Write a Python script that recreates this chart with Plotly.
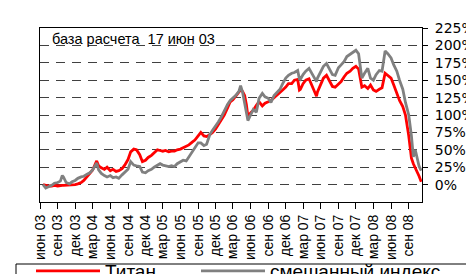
import plotly.graph_objects as go

dates = [
    "2003-06-17", "2003-07-01", "2003-07-15", "2003-08-01", "2003-08-15", "2003-09-01", "2003-09-15",
    "2003-09-25", "2003-10-01", "2003-10-15", "2003-11-01", "2003-11-15", "2003-12-01", "2003-12-15",
    "2004-01-01", "2004-01-15", "2004-02-01", "2004-02-15", "2004-03-01", "2004-03-15", "2004-03-22",
    "2004-04-01", "2004-04-15", "2004-05-01", "2004-05-15", "2004-06-01", "2004-06-15", "2004-07-01",
    "2004-07-15", "2004-08-01", "2004-08-15", "2004-09-01", "2004-09-15", "2004-10-01", "2004-10-15",
    "2004-11-01", "2004-11-15", "2004-12-01", "2004-12-15", "2005-01-01", "2005-01-15", "2005-02-01",
    "2005-02-15", "2005-03-01", "2005-03-15", "2005-04-01", "2005-04-15", "2005-05-01", "2005-05-15",
    "2005-06-01", "2005-06-15", "2005-07-01", "2005-07-15", "2005-08-01", "2005-08-15", "2005-09-01",
    "2005-09-15", "2005-10-01", "2005-10-15", "2005-11-01", "2005-11-15", "2005-12-01", "2005-12-15",
    "2006-01-01", "2006-01-15", "2006-02-01", "2006-02-15", "2006-03-01", "2006-03-15", "2006-04-01",
    "2006-04-10", "2006-04-20", "2006-05-01", "2006-05-10", "2006-05-18", "2006-06-01", "2006-06-15",
    "2006-07-01", "2006-07-15", "2006-08-01", "2006-08-15", "2006-09-01", "2006-09-15", "2006-10-01",
    "2006-10-15", "2006-11-01", "2006-11-15", "2006-12-01", "2006-12-15", "2007-01-01", "2007-01-15",
    "2007-02-01", "2007-02-10", "2007-02-15", "2007-03-01", "2007-03-15", "2007-04-01", "2007-04-15",
    "2007-05-01", "2007-05-10", "2007-05-15", "2007-06-01", "2007-06-15", "2007-07-01", "2007-07-15",
    "2007-08-01", "2007-08-15", "2007-09-01", "2007-09-15", "2007-10-01", "2007-10-15", "2007-11-01",
    "2007-11-15", "2007-12-01", "2007-12-15", "2008-01-01", "2008-01-15", "2008-02-01", "2008-02-15",
    "2008-03-01", "2008-03-15", "2008-04-01", "2008-04-15", "2008-05-01", "2008-05-15", "2008-06-01",
    "2008-06-15", "2008-07-01", "2008-07-15", "2008-08-01", "2008-08-15", "2008-09-01", "2008-09-15",
    "2008-09-25", "2008-10-05", "2008-10-15", "2008-10-25", "2008-11-05",
]

titan = [
    0, -1, -2, -2, -1, -2, -1,
    -1, -1, -1, -1, 0, 0, 1,
    3, 6, 11, 16, 21, 30, 34,
    27, 24, 22, 25, 20, 22, 19,
    20, 23, 28, 36, 47, 51, 50,
    43, 33, 35, 39, 42, 46, 50,
    49, 48, 49, 47, 48, 48, 50,
    51, 53, 55, 57, 61, 64, 70,
    75, 70, 69, 72, 75, 80, 86,
    93, 100, 110, 119, 122, 127, 133,
    136, 134, 128, 115, 98, 103, 107,
    114, 119, 113, 117, 119, 121, 125,
    128, 132, 136, 140, 145, 145, 150,
    151, 136, 137, 145, 150, 152, 143,
    132, 127, 133, 145, 153, 157, 150,
    141, 140, 145, 148, 155, 160, 163,
    167, 170, 166, 140, 142, 138, 143,
    136, 134, 137, 139, 160, 157, 153,
    143, 130, 121, 112, 100, 70, 38,
    30, 24, 20, 12, 4,
]

mixed = [
    0, -5, -3, -1, 2, 3, 5,
    13, 11, 3, 1, 4, 6, 9,
    11, 12, 15, 17, 21, 27, 31,
    21, 16, 13, 11, 13, 10, 11,
    9, 14, 18, 22, 33, 28, 27,
    26, 18, 17, 20, 22, 25, 28,
    30, 28, 27, 26, 27, 26, 30,
    33, 35, 34, 40, 48, 53, 60,
    60, 56, 58, 72, 78, 84, 90,
    98, 106, 115, 121, 124, 128, 134,
    142, 133, 118, 105, 92, 100, 108,
    104, 124, 131, 126, 124, 118, 128,
    132, 137, 145, 153, 157, 160, 161,
    164, 152, 151, 158, 163, 167, 160,
    152, 148, 153, 162, 170, 174, 166,
    158, 157, 168, 172, 177, 184, 187,
    190, 193, 188, 153, 160, 167, 153,
    150, 158, 164, 163, 192, 188, 182,
    172, 163, 150, 137, 118, 100, 70,
    40, 50, 36, 26, 20,
]

series_names = ["Титан", "смешанный индекс"]
series_colors = ["#FF0000", "#808080"]

tick_dates = [
    "2003-06-01", "2003-09-01", "2003-12-01", "2004-03-01", "2004-06-01", "2004-09-01",
    "2004-12-01", "2005-03-01", "2005-06-01", "2005-09-01", "2005-12-01", "2006-03-01",
    "2006-06-01", "2006-09-01", "2006-12-01", "2007-03-01", "2007-06-01", "2007-09-01",
    "2007-12-01", "2008-03-01", "2008-06-01", "2008-09-01",
]
tick_labels = [
    "июн 03", "сен 03", "дек 03", "мар 04", "июн 04", "сен 04",
    "дек 04", "мар 05", "июн 05", "сен 05", "дек 05", "мар 06",
    "июн 06", "сен 06", "дек 06", "мар 07", "июн 07", "сен 07",
    "дек 07", "мар 08", "июн 08", "сен 08",
]
y_ticks = [0, 25, 50, 75, 100, 125, 150, 175, 200, 225]
y_labels = ["0%", "25%", "50%", "75%", "100%", "125%", "150%", "175%", "200%", "225%"]
note_text = "база расчета  17 июн 03"

W, H = 474, 274
ML, MR, MT, MB = 32, 60, 20, 80
PW, PH = W - ML - MR, H - MT - MB


def px_x(x):
    return (x - ML) / PW


def px_y(y):
    return (H - MB - y) / PH


legend_font = dict(size=19, family="Liberation Sans, Arial, sans-serif", color="black")
legend_common = dict(
    orientation="h", xanchor="left", yanchor="middle", y=px_y(263),
    borderwidth=0, bgcolor="rgba(0,0,0,0)", font=legend_font, itemwidth=64,
)

fig = go.Figure()
for i, (name, vals, col) in enumerate(zip(series_names, [titan, mixed], series_colors)):
    fig.add_trace(go.Scatter(
        x=dates, y=vals, name=name, mode="lines",
        line=dict(color=col, width=2.8),
        legend="legend" if i == 0 else "legend2",
    ))

fig.update_layout(
    width=W, height=H,
    margin=dict(l=ML, r=MR, t=MT, b=MB, autoexpand=False),
    paper_bgcolor="white", plot_bgcolor="white",
    font=dict(family="Liberation Sans, Arial, sans-serif", color="black"),
    showlegend=True,
    legend=dict(x=px_x(23), **legend_common),
    legend2=dict(x=px_x(188), **legend_common),
    shapes=[dict(
        type="rect", xref="paper", yref="paper",
        x0=px_x(8), x1=px_x(468), y0=px_y(256), y1=px_y(300),
        line=dict(color="black", width=1), fillcolor="rgba(0,0,0,0)", layer="above",
    )],
    annotations=[dict(
        text=note_text, xref="paper", yref="paper", x=0.025, y=0.935,
        xanchor="left", yanchor="middle", showarrow=False,
        font=dict(size=14.5, family="Liberation Sans, Arial, sans-serif", color="black"),
    )],
)

fig.update_xaxes(
    type="date", range=["2003-06-01", "2008-11-09"],
    tickvals=tick_dates, ticktext=tick_labels, tickangle=-90,
    ticks="outside", ticklen=6, tickcolor="black",
    showline=True, linecolor="black", linewidth=1, mirror=True,
    showgrid=False, zeroline=False,
    tickfont=dict(size=14, family="Liberation Sans, Arial, sans-serif"),
)
fig.update_yaxes(
    side="right", range=[-25, 225], tickvals=y_ticks, ticktext=y_labels,
    ticks="outside", ticklen=5, tickcolor="black",
    showline=True, linecolor="black", linewidth=1, mirror=True,
    showgrid=True, gridcolor="#404040", gridwidth=1, griddash="9px,7px",
    zeroline=False,
    tickfont=dict(size=14, family="DejaVu Sans, sans-serif"),
    ticklabelstandoff=4,
)

fig.write_html("out.html")
